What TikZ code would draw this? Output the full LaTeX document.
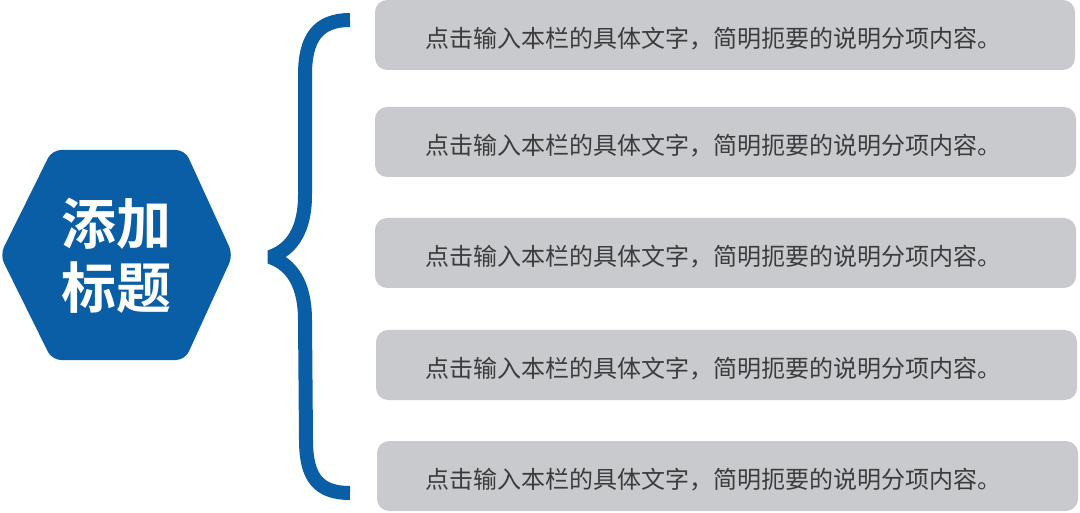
\documentclass[tikz,border=0pt]{standalone}
\usepackage{fontspec}
\newfontfamily\cjk{Noto Sans CJK SC}
\newfontfamily\cjkb{Noto Sans CJK SC Bold}
\definecolor{hexblue}{RGB}{10,94,166}
\definecolor{boxgray}{RGB}{201,202,205}
\definecolor{txtgray}{RGB}{60,60,60}
\begin{document}
\begin{tikzpicture}[x=1pt,y=-1pt,
  itembox/.style={fill=boxgray,rounded corners=12pt,draw=none},
  itemtext/.style={text=txtgray,font=\cjk\fontsize{24}{28}\selectfont,inner sep=0pt,anchor=center},
  bracestroke/.style={draw=hexblue,line width=14pt,line cap=butt,line join=bevel}]
\useasboundingbox (0,0) rectangle (1080,513);
% hexagon
\fill[hexblue,rounded corners=9pt] (0,255) -- (52,150) -- (185,150) -- (233,255) -- (185,360) -- (52,360) -- cycle;
\node[text=white,font=\cjkb\fontsize{55}{64}\selectfont,align=center,inner sep=0pt] (title) at (116,256) {添加\\标题};
% brace
\coordinate (btop) at (350,20);
\coordinate (bbot) at (350,493);
\coordinate (btip) at (270,257);
\draw[bracestroke] (btop) .. controls (318,20) and (305,38) .. (305,75)
  -- (305,195) .. controls (305,238) and (285,252) .. (btip)
  .. controls (285,262) and (305,276) .. (305,320)
  -- (306,440) .. controls (306,477) and (318,493) .. (bbot);
% boxes
\foreach \i/\t/\b/\l/\r in {1/0/70/375/1075, 2/107/177/375/1076, 3/218/288/375/1076, 4/330/400/376/1077, 5/441/511/377/1078}{
  \fill[itembox] (\l,\t) rectangle (\r,\b);
  \node[itemtext] (item\i) at (713,{(\t+\b)/2+4}) {点击输入本栏的具体文字，简明扼要的说明分项内容。};
}
\end{tikzpicture}
\end{document}
